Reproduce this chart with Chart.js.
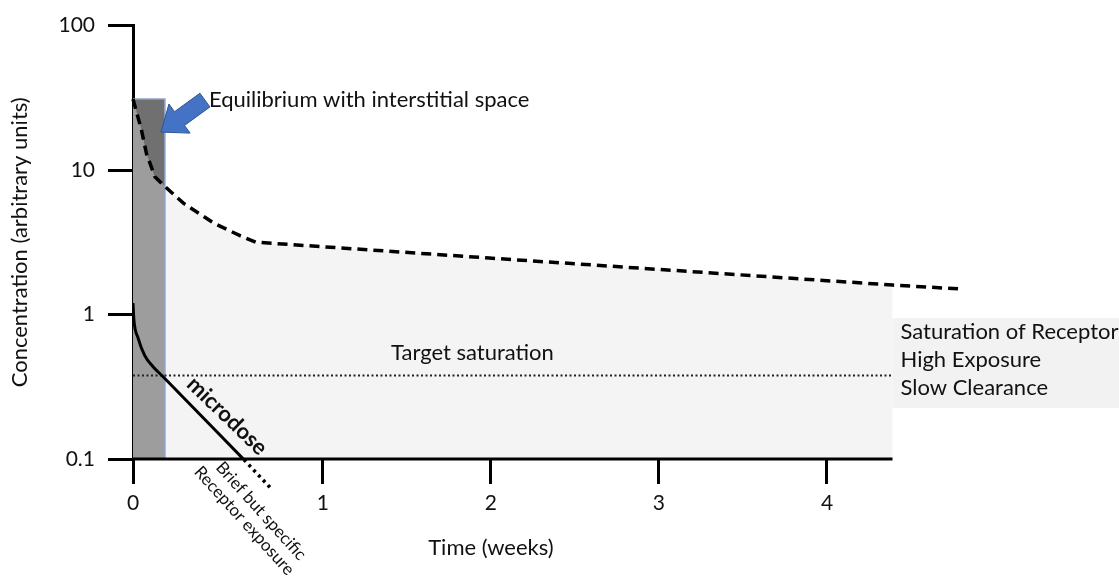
<!DOCTYPE html>
<html>
<head>
<meta charset="utf-8">
<script src="https://cdn.jsdelivr.net/npm/chart.js@4.4.1/dist/chart.umd.min.js"></script>
<style>
  html, body { margin: 0; padding: 0; background: #fff; }
  #wrap { width: 1119px; height: 581px; }
</style>
</head>
<body>
<div id="wrap"><canvas id="c" width="1119" height="581"></canvas></div>
<script>
// where the two axes cross, in weeks (the drawn "0" sits a little left of the tick spacing)
var AXIS_T = -0.13;
var TIME_TICKS = [AXIS_T, 1, 2, 3, 4];
var TIME_LABELS = ["0", "1", "2", "3", "4"];
var CONC_TICKS = [0.1, 1, 10, 100];
var CONC_LABELS = ["0.1", "1", "10", "100"];

// high dose curve (dashed)
var DOSE_T = [-0.13, -0.08, -0.05, 0.0, 0.06, 0.17, 0.35, 0.51, 0.60, 1.99, 4.39, 4.81];
var DOSE_C = [31, 19, 13, 9.0, 7.7, 5.9, 4.3, 3.5, 3.17, 2.46, 1.60, 1.50];

// microdose curve (solid, then dotted below 0.1)
var MICRO_T = [-0.13, -0.125, -0.10, -0.06, -0.012, 0.042, 0.53];
var MICRO_C = [1.20, 0.93, 0.69, 0.52, 0.437, 0.378, 0.099];
var MICRO_TAIL_T = [0.53, 0.70];
var MICRO_TAIL_C = [0.099, 0.061];

// equilibrium box and shaded window
var RECT_T = [-0.13, 0.06];
var RECT_C = [31, 31];
var SHADE_END = 4.39;
var TARGET_C = 0.378;

function pts(ts, cs) {
  return ts.map(function (t, i) { return { x: t, y: cs[i] }; });
}

var dosePts = pts(DOSE_T, DOSE_C);
var rectRight = RECT_T[RECT_T.length - 1];
var underRect = dosePts.filter(function (p) { return p.x <= rectRight; });
var underShade = dosePts.filter(function (p) { return p.x >= rectRight && p.x <= SHADE_END; });

var NONE = "rgba(0,0,0,0)";
var FONT = "Lato, 'Open Sans', sans-serif";

var annotations = {
  id: "annotations",
  afterDraw: function (chart) {
    var ctx = chart.ctx;
    var xs = chart.scales.x, ys = chart.scales.y;
    ctx.save();
    ctx.fillStyle = "#111";
    ctx.textBaseline = "middle";

    // blue arrow to the top of the box
    var rx = xs.getPixelForValue(rectRight), ry = ys.getPixelForValue(RECT_C[0]);
    var tip = { x: rx - 4, y: ry + 33 };
    var tail = { x: rx + 40, y: ry + 1 };
    var dx = tail.x - tip.x, dy = tail.y - tip.y, len = Math.sqrt(dx * dx + dy * dy);
    var ux = dx / len, uy = dy / len, nx = -uy, ny = ux;
    var headL = 23, headW = 18, shaftW = 8.5;
    var bx = tip.x + ux * headL, by = tip.y + uy * headL;
    ctx.beginPath();
    ctx.moveTo(tip.x, tip.y);
    ctx.lineTo(bx + nx * headW, by + ny * headW);
    ctx.lineTo(bx + nx * shaftW, by + ny * shaftW);
    ctx.lineTo(tail.x + nx * shaftW, tail.y + ny * shaftW);
    ctx.lineTo(tail.x - nx * shaftW, tail.y - ny * shaftW);
    ctx.lineTo(bx - nx * shaftW, by - ny * shaftW);
    ctx.lineTo(bx - nx * headW, by - ny * headW);
    ctx.closePath();
    ctx.fillStyle = "#4472c4";
    ctx.fill();
    ctx.strokeStyle = "#2f5597";
    ctx.lineWidth = 1;
    ctx.stroke();

    ctx.fillStyle = "#111";
    ctx.font = "22px " + FONT;
    ctx.textAlign = "left";
    ctx.fillText("Equilibrium with interstitial space", rx + 44, ry + 1);

    // target saturation label
    ctx.textAlign = "center";
    ctx.fillText("Target saturation", xs.getPixelForValue(1.89), ys.getPixelForValue(TARGET_C) - 23);

    // x axis title
    ctx.fillText("Time (weeks)", xs.getPixelForValue(2), 548);

    // right-hand box
    var bxL = xs.getPixelForValue(SHADE_END);
    ctx.fillStyle = "#f2f2f2";
    ctx.fillRect(bxL, 318, chart.width - bxL, 90);
    ctx.fillStyle = "#111";
    ctx.textAlign = "left";
    ctx.fillText("Saturation of Receptor", bxL + 8, 332);
    ctx.fillText("High Exposure", bxL + 8, 360);
    ctx.fillText("Slow Clearance", bxL + 8, 388);

    // rotated labels
    ctx.save();
    ctx.translate(227, 416);
    ctx.rotate(44 * Math.PI / 180);
    ctx.textAlign = "center";
    ctx.font = "bold 22px " + FONT;
    ctx.fillText("microdose", 0, 0);
    ctx.restore();

    ctx.save();
    ctx.translate(261, 511);
    ctx.rotate(48 * Math.PI / 180);
    ctx.textAlign = "center";
    ctx.font = "17px " + FONT;
    ctx.fillText("Brief but specific", 0, 0);
    ctx.fillText("Receptor exposure", -4, 19);
    ctx.restore();

    ctx.restore();
  }
};

new Chart(document.getElementById("c"), {
  type: "line",
  data: {
    datasets: [
      { // dark part of the equilibrium box
        data: pts(RECT_T, RECT_C),
        fill: "start", backgroundColor: "#707070",
        borderColor: NONE, borderWidth: 0, pointRadius: 0, order: 20
      },
      { // lighter part of the box, under the dose curve
        data: underRect,
        fill: "start", backgroundColor: "#9d9d9d",
        borderColor: NONE, borderWidth: 0, pointRadius: 0, order: 19
      },
      { // shaded exposure area
        data: underShade,
        fill: "start", backgroundColor: "#f4f4f4",
        borderColor: NONE, borderWidth: 0, pointRadius: 0, order: 18
      },
      { // box outline
        data: [{ x: RECT_T[0], y: RECT_C[0] }, { x: rectRight, y: RECT_C[1] }, { x: rectRight, y: CONC_TICKS[0] }],
        fill: false, borderColor: "#8ea3cc", borderWidth: 1.5, pointRadius: 0, order: 10
      },
      { // target saturation
        data: [{ x: AXIS_T, y: TARGET_C }, { x: SHADE_END, y: TARGET_C }],
        fill: false, borderColor: "#222", borderWidth: 2, borderDash: [2, 2.5], pointRadius: 0, order: 6
      },
      { // x axis line
        data: [{ x: AXIS_T, y: CONC_TICKS[0] }, { x: SHADE_END, y: CONC_TICKS[0] }],
        fill: false, borderColor: "#000", borderWidth: 3, pointRadius: 0, clip: false, order: 5
      },
      { // dose curve
        data: dosePts,
        fill: false, borderColor: "#000", borderWidth: 3.5, borderDash: [10, 6], pointRadius: 0, clip: false, order: 2
      },
      { // microdose
        data: pts(MICRO_T, MICRO_C),
        fill: false, borderColor: "#000", borderWidth: 3, cubicInterpolationMode: "monotone", pointRadius: 0, order: 1
      },
      { // microdose below detection
        data: pts(MICRO_TAIL_T, MICRO_TAIL_C),
        fill: false, borderColor: "#000", borderWidth: 3.5, borderDash: [3, 4], pointRadius: 0, clip: false, order: 1
      }
    ]
  },
  options: {
    responsive: false,
    animation: false,
    layout: { padding: { top: 23, right: 124, bottom: 0, left: 0 } },
    plugins: { legend: { display: false }, tooltip: { enabled: false } },
    scales: {
      x: {
        type: "linear",
        min: AXIS_T,
        max: 5.0,
        afterFit: function (s) { s.height = 122; },
        afterBuildTicks: function (s) { s.ticks = TIME_TICKS.map(function (v) { return { value: v }; }); },
        border: { display: false },
        grid: { drawOnChartArea: false, drawTicks: true, tickLength: 25, lineWidth: 3, color: "#000" },
        ticks: {
          color: "#111", font: { family: FONT, size: 21 }, padding: 7, maxRotation: 0,
          callback: function (v, i) { return TIME_LABELS[i]; }
        }
      },
      y: {
        type: "logarithmic",
        min: 0.1,
        max: 100,
        afterFit: function (s) { s.width = 133; },
        afterBuildTicks: function (s) { s.ticks = CONC_TICKS.map(function (v) { return { value: v }; }); },
        border: { display: true, color: "#000", width: 3 },
        grid: { drawOnChartArea: false, drawTicks: true, tickLength: 25, lineWidth: 3, color: "#000" },
        ticks: {
          color: "#111", font: { family: FONT, size: 21 }, padding: 13,
          callback: function (v, i) { return CONC_LABELS[i]; }
        },
        title: {
          display: true, text: "Concentration (arbitrary units)",
          color: "#111", font: { family: FONT, size: 22 }, padding: { top: 7, bottom: 0 }
        }
      }
    }
  },
  plugins: [annotations]
});
</script>
</body>
</html>
